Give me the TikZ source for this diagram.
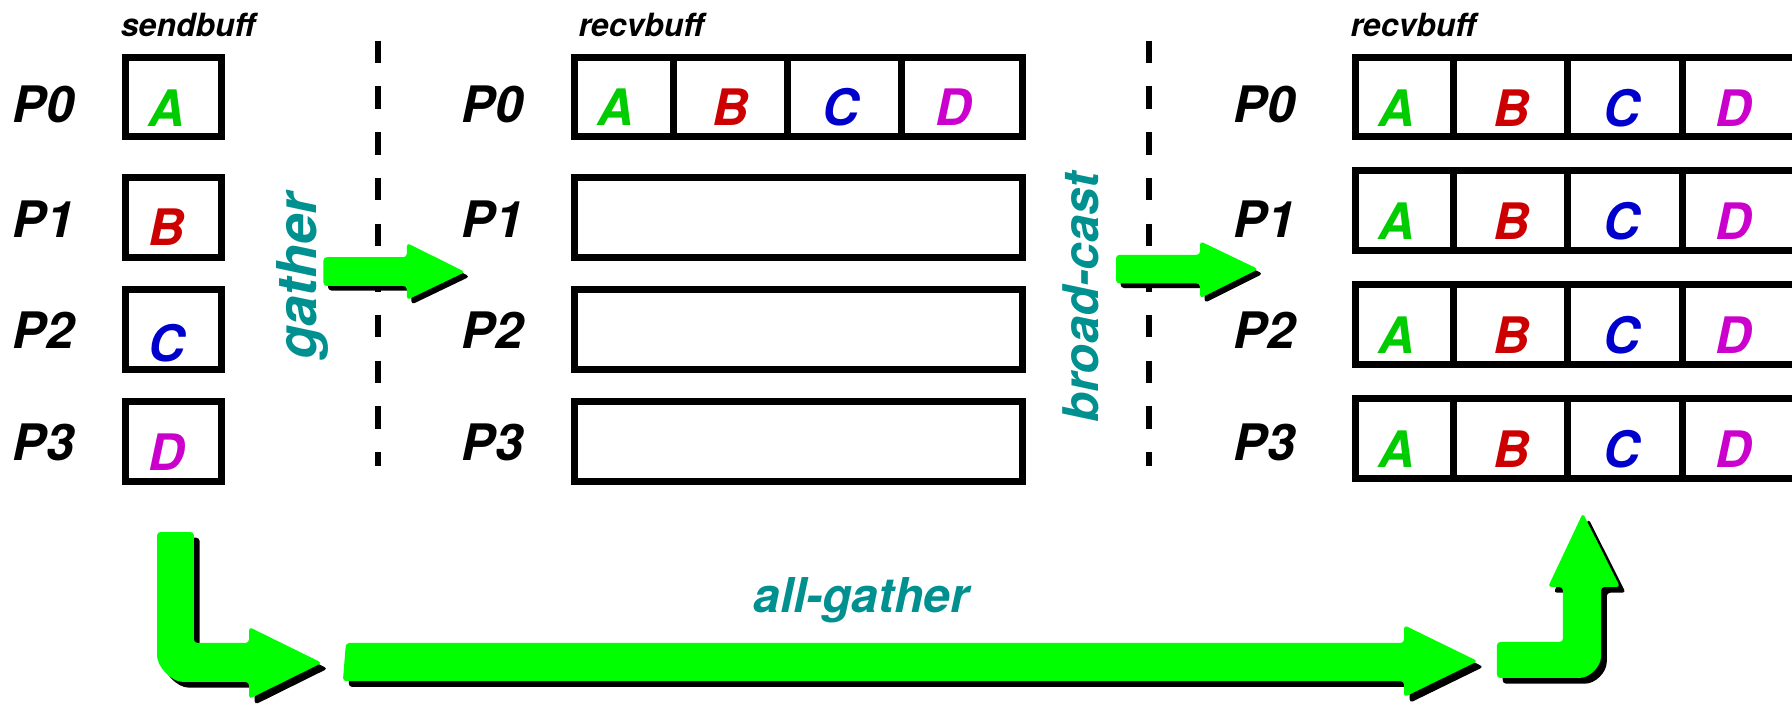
\documentclass[tikz,border=0pt]{standalone}
\usepackage{fontspec}
\setmainfont{TeX Gyre Heros}
\usepackage{xcolor}
\definecolor{arrowgreen}{RGB}{0,255,0}
\definecolor{opteal}{RGB}{0,144,144}
\definecolor{itemA}{RGB}{0,204,0}
\definecolor{itemB}{RGB}{204,0,0}
\definecolor{itemC}{RGB}{0,0,204}
\definecolor{itemD}{RGB}{204,0,204}
\tikzset{
  buf/.style={draw, line width=3pt},
  rank/.style={font=\fontsize{22}{22}\selectfont\bfseries\itshape, inner sep=0pt},
  item/.style={font=\fontsize{22}{22}\selectfont\bfseries\itshape, inner sep=0pt},
  bufname/.style={font=\fontsize{14}{14}\selectfont\bfseries\itshape, anchor=base, inner sep=0pt},
  opname/.style={font=\fontsize{22}{22}\selectfont\bfseries\itshape, text=opteal, inner sep=0pt},
  sep/.style={line width=2.5pt, dash pattern=on 9.8pt off 10.2pt},
}
% block arrow with a black drop shadow
\newcommand{\fatarrow}[2]{%
  \fill[black, rounded corners=1.5pt, shift={(#1,#1)}] #2;
  \fill[arrowgreen, rounded corners=1.5pt] #2;}

\begin{document}
\begin{tikzpicture}[x=0.5pt, y=-0.5pt]
  \clip (0,0) rectangle (1568,617);
  % separators
  \draw[sep] (330.5,35.6) -- (330.5,407.7);
  \draw[sep] (1005.4,35.6) -- (1005.4,407.7);

  % buffer titles
  \node[bufname] (sendname) at (164.5,31.5) {sendbuff};
  \node[bufname] (recvname) at (561,32) {recvbuff};
  \node[bufname] (allname) at (1236.5,32) {recvbuff};

  % process labels
  \foreach \r/\y in {0/91.5,1/192,2/288.5,3/387.5} {
    \node[rank] (lp\r) at (38,\y) {P\r};
    \node[rank] (mp\r) at (431,\y) {P\r};
    \node[rank] (rp\r) at (1106.5,\y) {P\r};
  }

  % send buffers
  \draw[buf] (110,50) rectangle (194,119.5);
  \draw[buf] (110,155) rectangle (194,225);
  \draw[buf] (110,253) rectangle (194,323);
  \draw[buf] (110,351.5) rectangle (194,421);
  \node[item, text=itemA] (sA) at (145.5,94.5) {A};
  \node[item, text=itemB] (sB) at (145.5,199) {B};
  \node[item, text=itemC] (sC) at (145.5,300) {C};
  \node[item, text=itemD] (sD) at (145.5,395.5) {D};

  % gather result
  \draw[buf] (503,50) rectangle (895,119.5);
  \draw[buf] (589,50) -- (589,119.5) (689,50) -- (689,119.5) (789,50) -- (789,119.5);
  \draw[buf] (503,155) rectangle (895,225);
  \draw[buf] (503,253) rectangle (895,323);
  \draw[buf] (503,351.5) rectangle (895,421);
  \node[item, text=itemA] (gA) at (539,94) {A};
  \node[item, text=itemB] (gB) at (639.5,94) {B};
  \node[item, text=itemC] (gC) at (735.5,94) {C};
  \node[item, text=itemD] (gD) at (834,94) {D};

  % broadcast result
  \foreach \r/\ya/\yb/\yt in {0/50/119.5/94.5, 1/149.5/219/193.7, 2/249/319/293.5, 3/348.5/418.5/393} {
    \draw[buf] (1186,\ya) rectangle (1572,\yb);
    \draw[buf] (1272,\ya) -- (1272,\yb) (1371.7,\ya) -- (1371.7,\yb) (1472,\ya) -- (1472,\yb);
    \node[item, text=itemA] (bA\r) at (1222,\yt) {A};
    \node[item, text=itemB] (bB\r) at (1322.5,\yt) {B};
    \node[item, text=itemC] (bC\r) at (1418.5,\yt) {C};
    \node[item, text=itemD] (bD\r) at (1516.5,\yt) {D};
  }

  % operations
  \node[opname, rotate=90, font=\fontsize{24}{24}\selectfont\bfseries\itshape] (gather) at (264.5,242) {gather};
  \node[opname, rotate=90, font=\fontsize{21.5}{21.5}\selectfont\bfseries\itshape] (bcast) at (945.5,260.5) {broad-cast};
  \node[opname, anchor=base, font=\fontsize{21}{21}\selectfont\bfseries\itshape] (allgather) at (753.5,536) {all-gather};

  \fatarrow{4}{(283,225) -- (356,225) -- (356,212.6) -- (407,238) -- (356,262.5) -- (356,250.2) -- (283,250.2) -- cycle}
  \fatarrow{4}{(976.5,223) -- (1050,223) -- (1050,211) -- (1101,235.5) -- (1050,261) -- (1050,248) -- (976.5,248) -- cycle}
  \fatarrow{5}{(137.4,465.5) -- (169.7,465.5) -- (169.7,562.6) -- (217.9,562.6) -- (217.9,548.6) -- (281.7,580) -- (217.9,611.6) -- (217.9,596.7) -- (163.4,596.7) .. controls (149.05,596.7) and (137.4,582.35) .. (137.4,570.7) -- cycle}
  \fatarrow{5}{(302.7,562.6) -- (1228.5,562.6) -- (1228.5,547) -- (1293,578.5) -- (1228.5,610) -- (1228.5,596) -- (300,596) -- cycle}
  \fatarrow{5}{(1309.8,561.7) -- (1367.6,561.7) -- (1367.6,513.6) -- (1354.5,513.6) -- (1385,449) -- (1417.5,513.6) -- (1400.9,513.6) -- (1400.9,571.2) .. controls (1400.9,583.3) and (1391,593.2) .. (1378.9,593.2) -- (1309.8,593.2) -- cycle}
\end{tikzpicture}
\end{document}
